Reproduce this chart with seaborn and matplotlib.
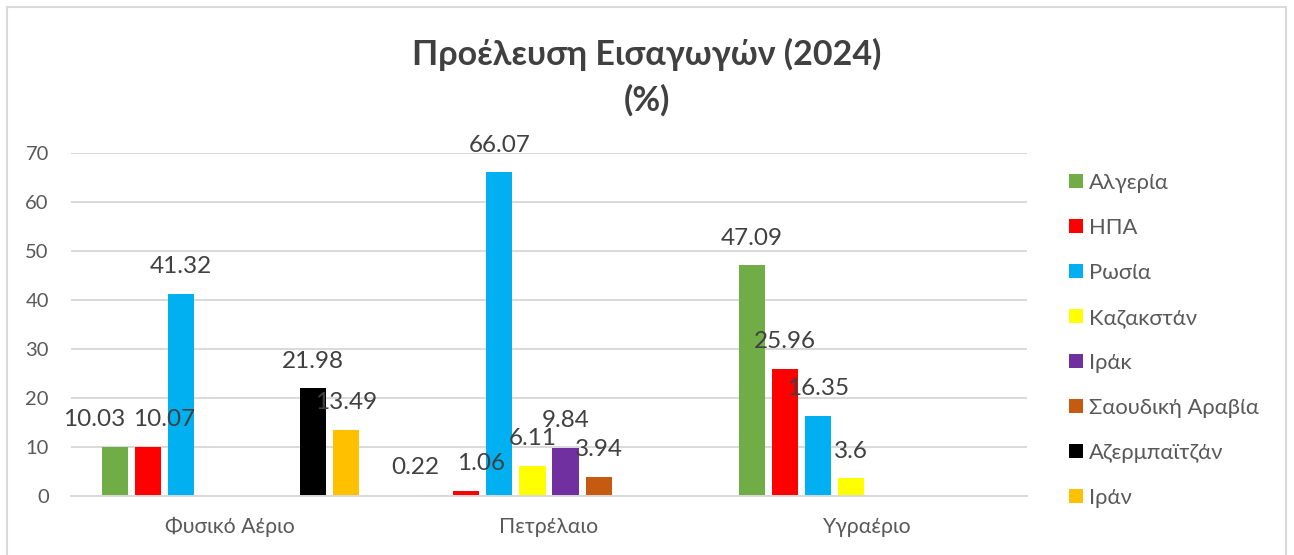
import matplotlib
matplotlib.use("Agg")
import matplotlib.pyplot as plt
import matplotlib.patches as mpatches
import pandas as pd
import seaborn as sns

# Κατηγορίες καυσίμων και χώρες προέλευσης
categories = ['Φυσικό Αέριο', 'Πετρέλαιο', 'Υγραέριο']
countries = ['Αλγερία', 'ΗΠΑ', 'Ρωσία', 'Καζακστάν', 'Ιράκ',
             'Σαουδική Αραβία', 'Αζερμπαϊτζάν', 'Ιράν']

# Ποσοστά ανά χώρα (None = δεν υπάρχει τιμή)
algeria = [10.03, 0.22, 47.09]
usa = [10.07, 1.06, 25.96]
russia = [41.32, 66.07, 16.35]
kazakhstan = [None, 6.11, 3.6]
iraq = [None, 9.84, None]
saudi = [None, 3.94, None]
azerbaijan = [21.98, None, None]
iran = [13.49, None, None]

colors = ['#70AD47', '#FF0000', '#00B0F0', '#FFFF00',
          '#7030A0', '#C55A11', '#000000', '#FFC000']

# μετατόπιση ετικετών (px) όπως στο αρχικό γράφημα
label_nudge = {
    ('Φυσικό Αέριο', 'Αλγερία'): -20,
    ('Φυσικό Αέριο', 'ΗΠΑ'): 16,
    ('Πετρέλαιο', 'Αλγερία'): -18,
    ('Πετρέλαιο', 'ΗΠΑ'): 15,
}

series = [algeria, usa, russia, kazakhstan, iraq, saudi, azerbaijan, iran]
rows = []
for country, values in zip(countries, series):
    for cat, v in zip(categories, values):
        if v is not None:
            rows.append({'category': cat, 'country': country, 'value': v})
df = pd.DataFrame(rows)

sns.set_theme(style='white')
plt.rcParams['font.family'] = ['Lato', 'DejaVu Sans']

text_grey = '#595959'
line_grey = '#D9D9D9'

W, H = 1294, 555
fig = plt.figure(figsize=(W / 100, H / 100), dpi=100)
ax = fig.add_axes([71 / W, 1 - 496 / H, (1027 - 71) / W, (496 - 153) / H])

sns.barplot(data=df, x='category', y='value', hue='country',
            order=categories, hue_order=countries, palette=colors,
            saturation=1, width=0.83, gap=0.21, linewidth=0, ax=ax)

ax.set_xlim(-0.5, 2.5)
ax.set_ylim(0, 70)
ax.set_yticks(range(0, 80, 10))
ax.set_xlabel('')
ax.set_ylabel('')
ax.yaxis.grid(True, color=line_grey, linewidth=1.4)
ax.set_axisbelow(True)
for side in ['top', 'right', 'left']:
    ax.spines[side].set_visible(False)
ax.spines['bottom'].set_color(line_grey)
ax.spines['bottom'].set_linewidth(1.4)
ax.tick_params(axis='y', length=0, pad=16, labelsize=14.5, labelcolor=text_grey)
ax.tick_params(axis='x', length=0, pad=15, labelsize=15.3, labelcolor=text_grey)

# Ετικέτες τιμών πάνω από τις μπάρες
for container, country in zip(ax.containers, countries):
    for bar in container:
        h = bar.get_height()
        if h != h:
            continue
        xc = bar.get_x() + bar.get_width() / 2
        cat = categories[int(round(xc))]
        dx = label_nudge.get((cat, country), 0) * 0.72
        ax.annotate(f'{h:g}', (xc, h), xytext=(dx, 19.5),
                    textcoords='offset points', ha='center', va='center',
                    fontsize=17.5, color='#404040')

handles, labels = ax.get_legend_handles_labels()
ax.legend(handles, labels, loc='center left',
          bbox_to_anchor=(1069 / W, 1 - 340.5 / H), bbox_transform=fig.transFigure,
          frameon=False, fontsize=15.8, labelcolor=text_grey,
          handlelength=0.62, handleheight=0.62, handletextpad=0.3,
          labelspacing=1.14, borderpad=0, borderaxespad=0)

fig.text(0.5, 1 - 77 / H, 'Προέλευση Εισαγωγών (2024)\n(%)',
         ha='center', va='center', fontsize=24.5, fontweight='bold',
         color='#404040', linespacing=1.5)

# περίγραμμα γραφήματος
fig.patches.append(mpatches.Rectangle((7 / W, -0.02), 1279 / W, 1 - 7 / H + 0.02,
                                      transform=fig.transFigure, fill=False,
                                      edgecolor=line_grey, linewidth=1.5))

fig.savefig('out.png', dpi=100)
